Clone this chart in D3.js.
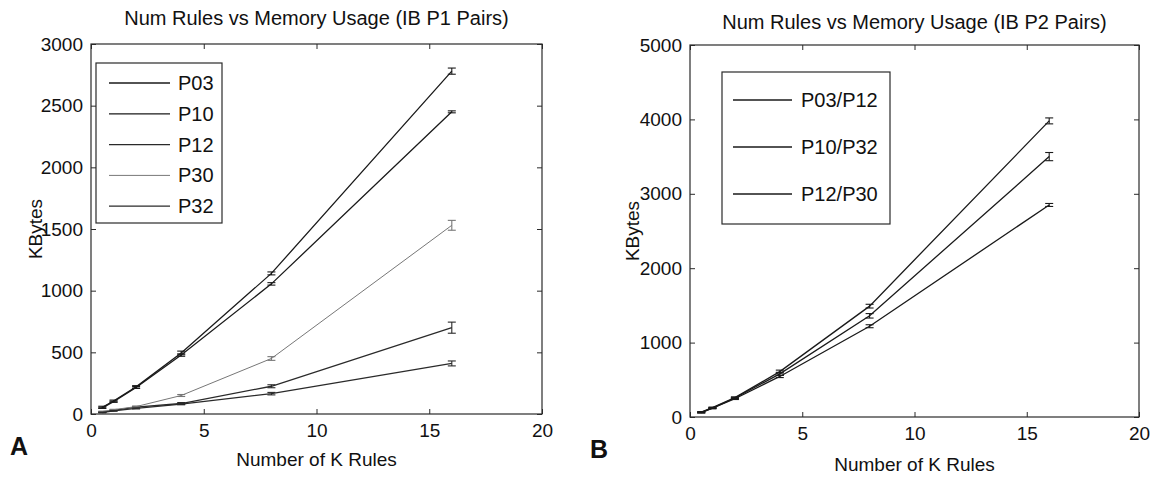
<!DOCTYPE html>
<html>
<head>
<meta charset="utf-8">
<script src="https://cdn.jsdelivr.net/npm/d3@7"></script>
<style>
  html, body { margin: 0; padding: 0; background: #fff; }
  svg { display: block; font-family: "Liberation Sans", Arial, sans-serif; }
</style>
</head>
<body>
<svg id="chart" width="1152" height="478"></svg>
<script>
// Rule counts (thousands) measured for each run
const kRules = [0.5, 1, 2, 4, 8, 16];
const xTicks = [0, 5, 10, 15, 20];

// Panel A: single IB policies
const p1Names = ["P03", "P10", "P12", "P30", "P32"];
const p03 = [55, 105, 220, 495, 1140, 2780];
const p10 = [50, 100, 215, 478, 1055, 2450];
const p12 = [15, 30, 55, 85, 225, 700];
const p30 = [20, 35, 60, 150, 450, 1530];
const p32 = [12, 25, 45, 80, 165, 410];
const p03Err = [8, 8, 10, 15, 12, 25];
const p10Err = [5, 5, 8, 10, 10, 8];
const p12Err = [3, 3, 5, 8, 12, 45];
const p30Err = [3, 3, 5, 8, 15, 40];
const p32Err = [2, 2, 4, 5, 10, 20];
const p1YTicks = [0, 500, 1000, 1500, 2000, 2500, 3000];

// Panel B: IB policy pairs
const p2Names = ["P03/P12", "P10/P32", "P12/P30"];
const p0312 = [65, 125, 260, 610, 1490, 3980];
const p1032 = [62, 120, 255, 580, 1360, 3500];
const p1230 = [60, 118, 245, 545, 1220, 2850];
const p0312Err = [8, 8, 10, 20, 25, 40];
const p1032Err = [6, 8, 10, 20, 30, 55];
const p1230Err = [5, 6, 10, 15, 20, 20];
const p2YTicks = [0, 1000, 2000, 3000, 4000, 5000];

const svg = d3.select("#chart");
const plain = d3.format("d");

function drawPanel(cfg) {
  const g = svg.append("g");
  const x = d3.scaleLinear().domain([0, 20]).range([cfg.left, cfg.right]);
  const y = d3.scaleLinear().domain([0, cfg.yMax]).range([cfg.bottom, cfg.top]);
  const tick = 5;
  const frame = "#2a2a2a";

  // axes box
  g.append("rect")
    .attr("x", cfg.left).attr("y", cfg.top)
    .attr("width", cfg.right - cfg.left).attr("height", cfg.bottom - cfg.top)
    .attr("fill", "none").attr("stroke", frame).attr("stroke-width", 1.2);

  // inward ticks on all four sides
  const bottomAxis = d3.axisBottom(x).tickValues(xTicks).tickSize(-tick).tickPadding(10).tickFormat(plain);
  const topAxis = d3.axisTop(x).tickValues(xTicks).tickSize(-tick).tickFormat("");
  const leftAxis = d3.axisLeft(y).tickValues(cfg.yTicks).tickSize(-tick).tickPadding(8).tickFormat(plain);
  const rightAxis = d3.axisRight(y).tickValues(cfg.yTicks).tickSize(-tick).tickFormat("");

  const gb = g.append("g").attr("transform", `translate(0,${cfg.bottom})`).call(bottomAxis);
  const gt = g.append("g").attr("transform", `translate(0,${cfg.top})`).call(topAxis);
  const gl = g.append("g").attr("transform", `translate(${cfg.left},0)`).call(leftAxis);
  const gr = g.append("g").attr("transform", `translate(${cfg.right},0)`).call(rightAxis);
  [gb, gt, gl, gr].forEach(a => {
    a.select(".domain").remove();
    a.selectAll(".tick line").attr("stroke", frame);
    a.selectAll(".tick text").attr("fill", "#111").attr("font-size", 19)
      .attr("font-family", "Liberation Sans, Arial, sans-serif");
  });
  gb.selectAll(".tick text").attr("dy", "0.71em");

  // series lines and error bars
  const line = d3.line().x((d, i) => x(kRules[i])).y(d => y(d));
  cfg.series.forEach(s => {
    g.append("path").datum(s.values)
      .attr("d", line).attr("fill", "none")
      .attr("stroke", s.color).attr("stroke-width", s.width);
    const eb = g.append("g").attr("stroke", s.color).attr("stroke-width", 1.1);
    s.values.forEach((v, i) => {
      const cx = x(kRules[i]);
      const y1 = y(v - s.err[i]), y2 = y(v + s.err[i]);
      const w = 4;
      eb.append("line").attr("x1", cx).attr("x2", cx).attr("y1", y1).attr("y2", y2);
      eb.append("line").attr("x1", cx - w).attr("x2", cx + w).attr("y1", y1).attr("y2", y1);
      eb.append("line").attr("x1", cx - w).attr("x2", cx + w).attr("y1", y2).attr("y2", y2);
    });
  });

  // title and axis labels
  g.append("text").attr("x", (cfg.left + cfg.right) / 2).attr("y", cfg.titleY)
    .attr("text-anchor", "middle").attr("font-size", 20).attr("fill", "#111")
    .text(cfg.title);
  g.append("text").attr("x", (cfg.left + cfg.right) / 2).attr("y", cfg.xLabelY)
    .attr("text-anchor", "middle").attr("font-size", 19).attr("fill", "#111")
    .text("Number of K Rules");
  g.append("text")
    .attr("transform", `translate(${cfg.yLabelX},${(cfg.top + cfg.bottom) / 2}) rotate(-90)`)
    .attr("text-anchor", "middle").attr("font-size", 19).attr("fill", "#111")
    .text("KBytes");
  g.append("text").attr("x", cfg.panelX).attr("y", cfg.panelY)
    .attr("font-size", 25).attr("font-weight", "bold").attr("fill", "#111")
    .text(cfg.panel);

  // legend
  const L = cfg.legend;
  g.append("rect").attr("x", L.x0).attr("y", L.y0)
    .attr("width", L.x1 - L.x0).attr("height", L.y1 - L.y0)
    .attr("fill", "#fff").attr("stroke", frame).attr("stroke-width", 1.2);
  cfg.series.forEach((s, i) => {
    const cy = L.firstY + i * L.step;
    g.append("line").attr("x1", L.lineX0).attr("x2", L.lineX1)
      .attr("y1", cy).attr("y2", cy)
      .attr("stroke", s.color).attr("stroke-width", s.width);
    g.append("text").attr("x", L.textX).attr("y", cy + 7)
      .attr("font-size", 20).attr("fill", "#111").text(s.name);
  });
}

drawPanel({
  left: 91, right: 542, top: 44, bottom: 414, yMax: 3000, yTicks: p1YTicks,
  title: "Num Rules vs Memory Usage (IB P1 Pairs)", titleY: 25,
  xLabelY: 466, yLabelX: 42, panel: "A", panelX: 10, panelY: 455,
  series: [
    { name: p1Names[0], values: p03, err: p03Err, color: "#1a1a1a", width: 1.3 },
    { name: p1Names[1], values: p10, err: p10Err, color: "#1a1a1a", width: 1.3 },
    { name: p1Names[2], values: p12, err: p12Err, color: "#2a2a2a", width: 1.3 },
    { name: p1Names[3], values: p30, err: p30Err, color: "#777", width: 1.0 },
    { name: p1Names[4], values: p32, err: p32Err, color: "#2a2a2a", width: 1.3 }
  ],
  legend: { x0: 96, x1: 222, y0: 63, y1: 223, firstY: 83, step: 30.8,
            lineX0: 109, lineX1: 170, textX: 178 }
});

drawPanel({
  left: 690, right: 1139, top: 45, bottom: 417, yMax: 5000, yTicks: p2YTicks,
  title: "Num Rules vs Memory Usage (IB P2 Pairs)", titleY: 29,
  xLabelY: 471, yLabelX: 639, panel: "B", panelX: 590, panelY: 458,
  series: [
    { name: p2Names[0], values: p0312, err: p0312Err, color: "#1a1a1a", width: 1.3 },
    { name: p2Names[1], values: p1032, err: p1032Err, color: "#1a1a1a", width: 1.3 },
    { name: p2Names[2], values: p1230, err: p1230Err, color: "#1a1a1a", width: 1.3 }
  ],
  legend: { x0: 722, x1: 890, y0: 72, y1: 224, firstY: 100, step: 47,
            lineX0: 733, lineX1: 792, textX: 801 }
});
</script>
</body>
</html>
